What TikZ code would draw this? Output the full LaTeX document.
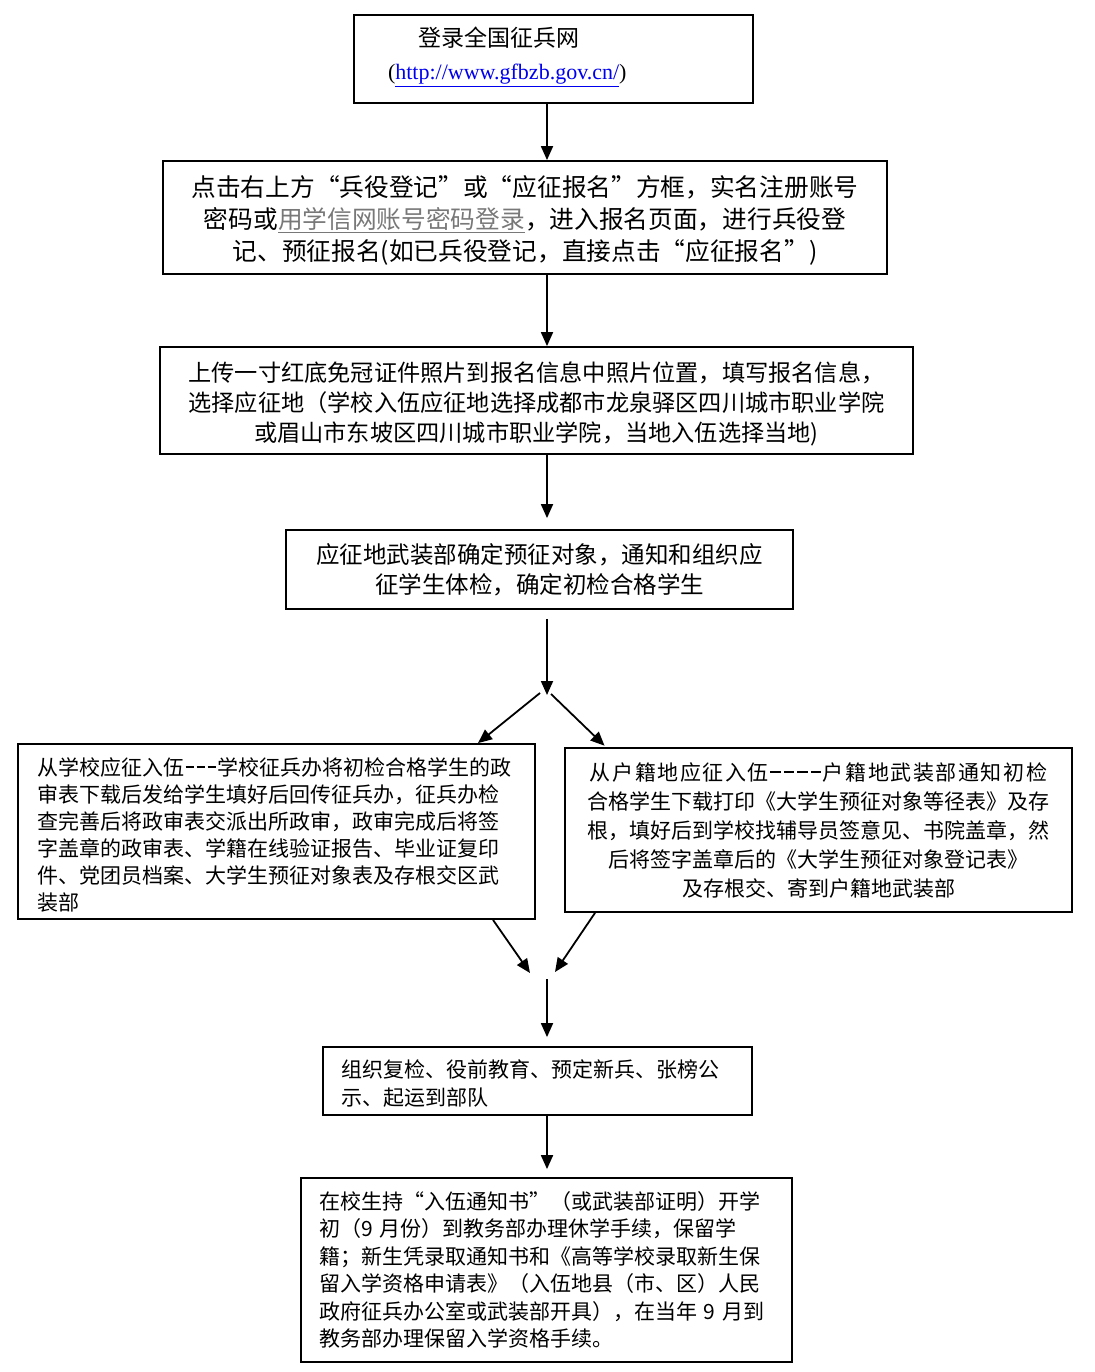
\documentclass[tikz,border=0pt]{standalone}
\usepackage{fontspec}
\setmainfont{Noto Sans CJK SC}
\newfontfamily\urlfont{Liberation Serif}
\newfontfamily\spacedcjk[LetterSpace=7.5]{Noto Sans CJK SC}
\usetikzlibrary{arrows.meta}
\definecolor{linkblue}{RGB}{0,0,238}
\definecolor{linkgray}{RGB}{120,120,120}
\newcommand\dsh[1]{\hspace{1.5pt}\rule[7.5pt]{#1}{1.3pt}\hspace{1.5pt}}
\begin{document}
\begin{tikzpicture}[x=1pt,y=-1pt,
  box/.style={draw, line width=1.8pt, rectangle, inner sep=0pt},
  txt/.style={inner sep=0pt},
  arr/.style={line width=1.8pt, -{Triangle[length=14pt,width=12pt]}},
]
\useasboundingbox (0,0) rectangle (1094,1372);
% boxes
\node[box, minimum width=399pt, minimum height=88pt] (A) at (553.5,59) {};
\node[box, minimum width=724pt, minimum height=113pt] (B) at (525,217.5) {};
\node[box, minimum width=753pt, minimum height=107pt] (C) at (536.5,400.5) {};
\node[box, minimum width=507pt, minimum height=79pt] (D) at (539.5,569.5) {};
\node[box, minimum width=517pt, minimum height=175pt] (E) at (276.5,831.5) {};
\node[box, minimum width=507pt, minimum height=164pt] (F) at (818.5,830) {};
\node[box, minimum width=429pt, minimum height=68pt] (G) at (537.5,1081) {};
\node[box, minimum width=491pt, minimum height=184pt] (H) at (546.5,1270) {};
% texts
\node[txt, text width=331pt, align=left, font=\fontsize{23}{33}\selectfont] (At) at (553.5,57)
  {\hspace*{30pt}登录全国征兵网\\{\urlfont\fontsize{22}{33}\selectfont (\textcolor{linkblue}{\underline{http://www.gfbzb.gov.cn/}})}};
\node[txt, text width=724pt, align=center, font=\fontsize{24.7}{32}\selectfont] (Bt) at (525,220.5)
  {点击右上方“兵役登记”或“应征报名”方框，实名注册账号\\密码或\textcolor{linkgray}{\underline{用学信网账号密码登录}}，进入报名页面，进行兵役登\\记、预征报名(如已兵役登记，直接点击“应征报名”)};
\node[txt, text width=753pt, align=center, font=\fontsize{23.2}{30}\selectfont] (Ct) at (536.5,403.5)
  {上传一寸红底免冠证件照片到报名信息中照片位置，填写报名信息，\\选择应征地（学校入伍应征地选择成都市龙泉驿区四川城市职业学院\\或眉山市东坡区四川城市职业学院，当地入伍选择当地)};
\node[txt, text width=507pt, align=center, font=\fontsize{23.5}{30}\selectfont] (Dt) at (539.5,569.5)
  {应征地武装部确定预征对象，通知和组织应\\征学生体检，确定初检合格学生};
\node[txt, text width=479pt, align=left, font=\fontsize{21}{27}\selectfont] (Et) at (276.5,834.5)
  {从学校应征入伍\dsh{8pt}\dsh{8pt}\dsh{8pt}学校征兵办将初检合格学生的政\\审表下载后发给学生填好后回传征兵办，征兵办检\\查完善后将政审表交派出所政审，政审完成后将签\\字盖章的政审表、学籍在线验证报告、毕业证复印\\件、党团员档案、大学生预征对象表及存根交区武\\装部};
\node[txt, text width=507pt, align=center, font=\fontsize{21}{29}\selectfont] (Ft) at (818.5,830)
  {{\spacedcjk 从户籍地应征入伍}\dsh{10.5pt}\dsh{10.5pt}\dsh{10.5pt}\dsh{10.5pt}{\spacedcjk 户籍地武装部通知初检}\\合格学生下载打印《大学生预征对象等径表》及存\\根，填好后到学校找辅导员签意见、书院盖章，然\\后将签字盖章后的《大学生预征对象登记表》\\及存根交、寄到户籍地武装部};
\node[txt, text width=393pt, align=left, font=\fontsize{21}{28}\selectfont] (Gt) at (537.5,1084)
  {组织复检、役前教育、预定新兵、张榜公\\示、起运到部队};
\node[txt, text width=455pt, align=left, font=\fontsize{21}{27.5}\selectfont] (Ht) at (546.5,1270)
  {在校生持“入伍通知书”（或武装部证明）开学\\初（9 月份）到教务部办理休学手续，保留学\\籍；新生凭录取通知书和《高等学校录取新生保\\留入学资格申请表》（入伍地县（市、区）人民\\政府征兵办公室或武装部开具），在当年 9 月到\\教务部办理保留入学资格手续。};

\coordinate (spine) at (547,0);
\coordinate (split) at (547,695);
\coordinate (sl) at (540,693);
\coordinate (sr) at (551,694);
\coordinate (eL) at (478,0);
\coordinate (fR) at (606,0);
\coordinate (eOut) at (493,0);
\coordinate (fOut) at (595,0);
\coordinate (mL) at (530,973);
\coordinate (mR) at (555,972);
\coordinate (mg) at (547,979);

\draw[arr] (spine |- A.south) -- (spine |- B.north);
\draw[arr] (spine |- B.south) -- (spine |- C.north);
\draw[arr, shorten >=11pt] (spine |- C.south) -- (spine |- D.north);
\draw[arr, shorten <=9pt] (spine |- D.south) -- (split);
\draw[arr] (sl) -- (eL |- E.north);
\draw[arr, shorten >=2pt] (sr) -- (fR |- F.north);
\draw[arr] (eOut |- E.south) -- (mL);
\draw[arr] (fOut |- F.south) -- (mR);
\draw[arr, shorten >=9pt] (mg) -- (spine |- G.north);
\draw[arr, shorten >=8pt] (spine |- G.south) -- (spine |- H.north);
\end{tikzpicture}
\end{document}
